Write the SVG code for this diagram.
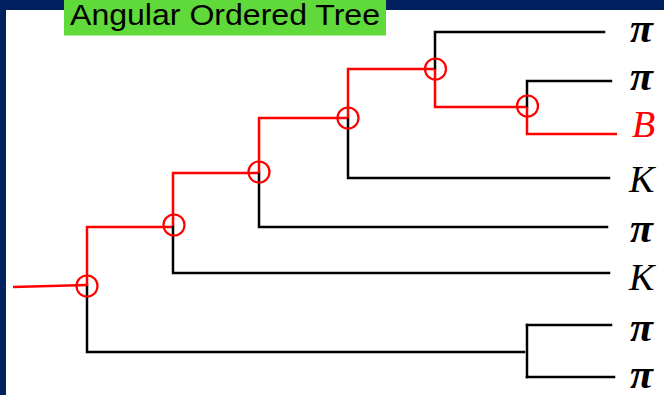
<svg xmlns="http://www.w3.org/2000/svg" width="664" height="395" viewBox="0 0 664 395">
<style>
.blk{fill:none;stroke:#000;stroke-width:2.5;stroke-linecap:square;stroke-linejoin:miter}
.red{fill:none;stroke:#ff0000;stroke-width:2.5;stroke-linecap:butt;stroke-linejoin:miter}
.vtx{fill:none;stroke:#ff0000;stroke-width:2.2}
.lab{font-family:"Liberation Serif","Times New Roman",serif;font-style:italic;font-size:38px;fill:#000}
.pi{font-family:"Liberation Serif","Times New Roman",serif;font-style:italic;font-weight:bold;font-size:42px;fill:#000}
.title{font-family:"Liberation Sans",Arial,sans-serif;font-size:29px;fill:#000}
</style>
<rect x="0" y="0" width="664" height="395" fill="#ffffff"/>
<rect x="0" y="0" width="664" height="10" fill="#002060"/>
<rect x="0" y="0" width="6" height="395" fill="#002060"/>
<g id="title">
<rect x="64" y="0" width="322" height="35.5" fill="#60d93a"/>
<text class="title" x="70" y="25" textLength="310" lengthAdjust="spacingAndGlyphs">Angular Ordered Tree</text>
</g>
<g id="connectors">
<path class="blk" d="M87,286 V352 H524"/>
<path class="blk" d="M527,325 V377"/>
<path class="blk" d="M527,325 H611"/>
<path class="blk" d="M527,377 H614"/>
<path class="blk" d="M173,226 V273 H609"/>
<path class="blk" d="M259,173 V227 H607"/>
<path class="blk" d="M348,118 V178 H609"/>
<path class="blk" d="M435,69 V32 H604"/>
<path class="blk" d="M527,107 V81 H611"/>
<path class="red" d="M13,287 L87,285"/>
<path class="red" d="M87,286 V227 H172"/>
<path class="red" d="M173,226 V173 H258"/>
<path class="red" d="M259,173 V118 H347"/>
<path class="red" d="M348,118 V69 H434"/>
<path class="red" d="M435,69 V107 H526"/>
<path class="red" d="M527,107 V134 H617"/>
</g>
<g id="n1"><circle class="vtx" cx="87" cy="286" r="10.5"/></g>
<g id="n2"><circle class="vtx" cx="174" cy="225" r="10.5"/></g>
<g id="n3"><circle class="vtx" cx="259" cy="172" r="10.5"/></g>
<g id="n4"><circle class="vtx" cx="348" cy="118" r="10.5"/></g>
<g id="n5"><circle class="vtx" cx="435.5" cy="69" r="10.5"/></g>
<g id="n6"><circle class="vtx" cx="527.5" cy="106" r="10.5"/></g>
<g id="leaf1"><text class="pi" x="630" y="42">π</text></g>
<g id="leaf2"><text class="pi" x="630" y="90">π</text></g>
<g id="leaf3"><text class="lab" x="632" y="137" style="fill:#ff0000">B</text></g>
<g id="leaf4"><text class="lab" x="629" y="192">K</text></g>
<g id="leaf5"><text class="pi" x="630" y="242">π</text></g>
<g id="leaf6"><text class="lab" x="629" y="290">K</text></g>
<g id="leaf7"><text class="pi" x="630" y="341">π</text></g>
<g id="leaf8"><text class="pi" x="630" y="388">π</text></g>
</svg>
